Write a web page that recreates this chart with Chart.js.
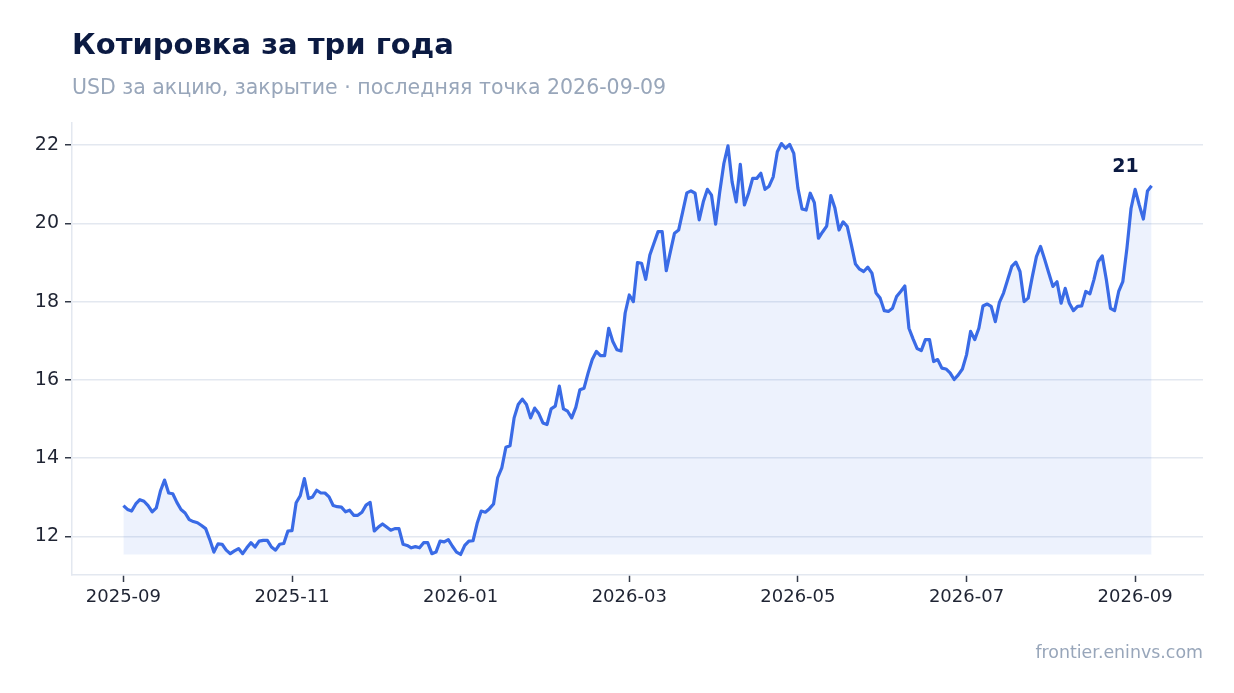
<!DOCTYPE html>
<html lang="ru">
<head>
<meta charset="utf-8">
<title>Котировка за три года</title>
<script src="https://cdn.jsdelivr.net/npm/chart.js@4/dist/chart.umd.min.js"></script>
<style>
    html, body { margin: 0; padding: 0; background: #ffffff; }
    #wrap { width: 1234px; height: 693px; position: relative; }
</style>
</head>
<body>
<div id="wrap"><canvas id="quoteChart"></canvas></div>
<script>
// closing price, one point every ~1.5 days, 2025-09-01 .. 2026-09-09
const closes = [
    12.79, 12.69, 12.65, 12.83, 12.94, 12.90, 12.79, 12.63, 12.73, 13.16,
    13.44, 13.11, 13.09, 12.87, 12.69, 12.60, 12.43, 12.38, 12.35, 12.28,
    12.20, 11.92, 11.60, 11.81, 11.80, 11.65, 11.56, 11.63, 11.69, 11.56,
    11.71, 11.84, 11.73, 11.88, 11.90, 11.90, 11.73, 11.65, 11.80, 11.82,
    12.14, 12.15, 12.86, 13.04, 13.48, 12.97, 13.01, 13.18, 13.11, 13.11,
    13.01, 12.79, 12.76, 12.75, 12.63, 12.67, 12.54, 12.54, 12.62, 12.80,
    12.87, 12.14, 12.24, 12.32, 12.24, 12.16, 12.20, 12.20, 11.80, 11.77,
    11.71, 11.74, 11.71, 11.84, 11.84, 11.56, 11.60, 11.88, 11.86, 11.92,
    11.75, 11.60, 11.54, 11.77, 11.88, 11.89, 12.33, 12.65, 12.62, 12.71,
    12.83, 13.50, 13.75, 14.28, 14.32, 15.03, 15.37, 15.51, 15.37, 15.03,
    15.28, 15.14, 14.90, 14.86, 15.26, 15.33, 15.84, 15.26, 15.20, 15.03,
    15.30, 15.75, 15.79, 16.18, 16.52, 16.73, 16.62, 16.62, 17.32, 16.98,
    16.77, 16.74, 17.71, 18.17, 18.00, 19.00, 18.98, 18.57, 19.19, 19.49,
    19.79, 19.79, 18.79, 19.28, 19.75, 19.83, 20.30, 20.78, 20.83, 20.77,
    20.09, 20.55, 20.87, 20.72, 19.98, 20.81, 21.53, 21.98, 21.06, 20.55,
    21.51, 20.47, 20.77, 21.15, 21.15, 21.28, 20.87, 20.95, 21.19, 21.83,
    22.04, 21.92, 22.02, 21.79, 20.90, 20.37, 20.34, 20.77, 20.53, 19.62,
    19.78, 19.93, 20.71, 20.39, 19.83, 20.04, 19.92, 19.45, 18.96, 18.83,
    18.77, 18.88, 18.73, 18.22, 18.09, 17.77, 17.75, 17.83, 18.13, 18.26,
    18.40, 17.32, 17.05, 16.80, 16.75, 17.03, 17.03, 16.47, 16.52, 16.30,
    16.28, 16.18, 16.01, 16.13, 16.28, 16.64, 17.24, 17.03, 17.32, 17.89,
    17.94, 17.88, 17.49, 17.98, 18.22, 18.56, 18.90, 19.01, 18.77, 18.00,
    18.09, 18.64, 19.15, 19.41, 19.08, 18.73, 18.39, 18.51, 17.96, 18.34,
    17.96, 17.77, 17.88, 17.89, 18.26, 18.20, 18.57, 19.02, 19.17, 18.56,
    17.83, 17.77, 18.26, 18.51, 19.36, 20.38, 20.87, 20.47, 20.11, 20.83,
    20.96
];

// x ticks fall every 41 points (about two months)
const tickPoints = [0, 41, 82, 123, 164, 205, 246];
const tickLabels = ['2025-09', '2025-11', '2026-01', '2026-03', '2026-05', '2026-07', '2026-09'];
const yTicks = [12, 14, 16, 18, 20, 22];

const titleText = 'Котировка за три года';
const subtitleText = 'USD за акцию, закрытие · последняя точка 2026-09-09';
const sourceText = 'frontier.eninvs.com';

const FONT = "'DejaVu Sans', 'Liberation Sans', sans-serif";

const lo = Math.min(...closes);
const hi = Math.max(...closes);
const yPad = (hi - lo) * 0.05;
const xPad = (closes.length - 1) * 0.05;

const textPlugin = {
    id: 'texts',
    afterDraw(chart) {
        const ctx = chart.ctx;
        ctx.save();
        ctx.textBaseline = 'alphabetic';

        ctx.fillStyle = '#0b1a42';
        ctx.font = 'bold 29px ' + FONT;
        ctx.textAlign = 'left';
        ctx.fillText(titleText, 72, 54);

        ctx.fillStyle = '#98a6ba';
        ctx.font = '20.5px ' + FONT;
        ctx.fillText(subtitleText, 72, 94);

        ctx.font = '17.4px ' + FONT;
        ctx.textAlign = 'right';
        ctx.fillText(sourceText, 1203, 658);

        // last value label
        const meta = chart.getDatasetMeta(0);
        const last = meta.data[meta.data.length - 1];
        ctx.fillStyle = '#0b1a42';
        ctx.font = 'bold 19px ' + FONT;
        ctx.textAlign = 'center';
        ctx.fillText(Math.round(closes[closes.length - 1]).toString(), last.x - 26, last.y - 14);
        ctx.restore();
    }
};

const ctx = document.getElementById('quoteChart').getContext('2d');
new Chart(ctx, {
    type: 'line',
    data: {
        datasets: [{
            data: closes.map((v, i) => ({ x: i, y: v })),
            borderColor: '#3a6be6',
            borderWidth: 3.2,
            borderJoinStyle: 'round',
            backgroundColor: 'rgba(59, 107, 230, 0.09)',
            fill: { value: lo },
            pointRadius: 0,
            tension: 0
        }]
    },
    options: {
        responsive: true,
        maintainAspectRatio: false,
        animation: false,
        devicePixelRatio: 1,
        layout: { padding: { top: 123, right: 31, left: 0, bottom: 0 } },
        plugins: {
            legend: { display: false },
            tooltip: { enabled: false }
        },
        scales: {
            x: {
                type: 'linear',
                min: -xPad,
                max: closes.length - 1 + xPad,
                afterBuildTicks: axis => { axis.ticks = tickPoints.map(v => ({ value: v })); },
                afterFit: axis => { axis.height = 118; },
                ticks: {
                    autoSkip: false,
                    maxRotation: 0,
                    padding: 5,
                    color: '#1f2433',
                    font: { family: FONT, size: 18 },
                    callback: value => tickLabels[tickPoints.indexOf(value)]
                },
                grid: { drawOnChartArea: false, drawTicks: true, tickLength: 7, tickColor: '#333a48', tickWidth: 1.5 },
                border: { color: '#e3e8f0', width: 1.5 }
            },
            y: {
                min: lo - yPad,
                max: hi + yPad,
                afterBuildTicks: axis => { axis.ticks = yTicks.map(v => ({ value: v })); },
                afterFit: axis => { axis.width = 72; },
                ticks: {
                    padding: 6,
                    color: '#1f2433',
                    font: { family: FONT, size: 19 },
                    callback: value => value.toString()
                },
                grid: { color: '#e3e8f0', lineWidth: 1.5, tickLength: 7, tickColor: '#333a48', tickWidth: 1.5 },
                border: { color: '#e3e8f0', width: 1.5 }
            }
        }
    },
    plugins: [textPlugin]
});
</script>
</body>
</html>
